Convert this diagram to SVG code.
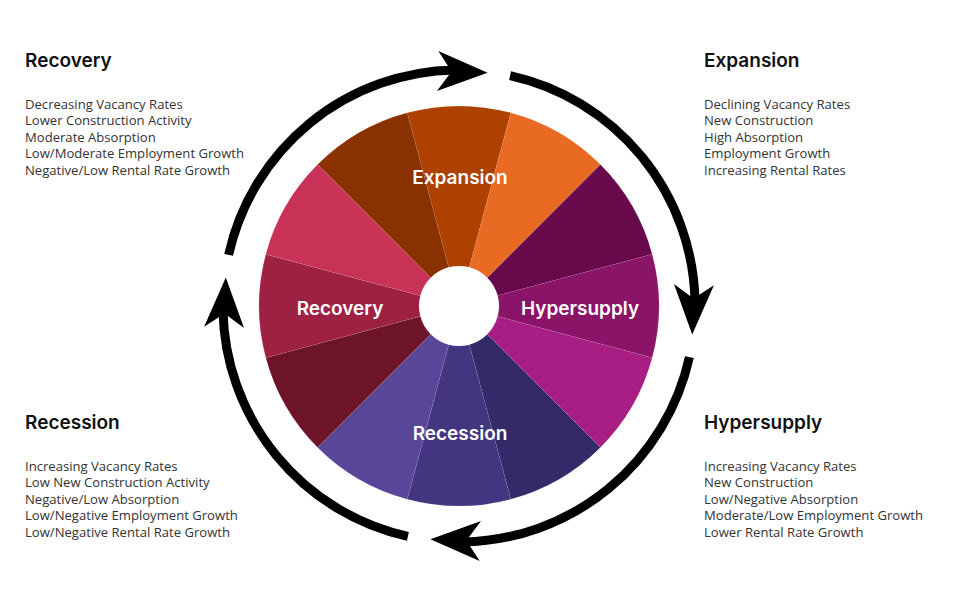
<svg xmlns="http://www.w3.org/2000/svg" width="977" height="595" viewBox="0 0 977 595">
<style>
.h{font-family:Inter,"Open Sans","Liberation Sans",sans-serif;font-weight:600;font-size:19px;fill:#111}
.b{font-family:"Open Sans","Liberation Sans",sans-serif;font-size:13.1px;fill:#333}
.w{font-family:Inter,"Open Sans","Liberation Sans",sans-serif;font-weight:600;font-size:19px;fill:#fff;text-anchor:middle}
.seg{stroke:#fff;stroke-opacity:0.1;stroke-width:0.7}
.arc{fill:none;stroke:#000;stroke-width:9}
</style>
<defs>
<path id="ah" d="M0,0 L-50,-20 L-36,0 L-50,20 Z" fill="#000"/>
</defs>
<rect width="977" height="595" fill="#fff"/>
<g id="wheel">
<path class="seg" fill="#AE4000" d="M448.65,267.36 L407.24,112.81 A200,200 0 0 1 510.76,112.81 L469.35,267.36 A40,40 0 0 0 448.65,267.36 Z"/>
<path class="seg" fill="#E96A22" d="M469.35,267.36 L510.76,112.81 A200,200 0 0 1 600.42,164.58 L487.28,277.72 A40,40 0 0 0 469.35,267.36 Z"/>
<path class="seg" fill="#67094B" d="M487.28,277.72 L600.42,164.58 A200,200 0 0 1 652.19,254.24 L497.64,295.65 A40,40 0 0 0 487.28,277.72 Z"/>
<path class="seg" fill="#8A1468" d="M497.64,295.65 L652.19,254.24 A200,200 0 0 1 652.19,357.76 L497.64,316.35 A40,40 0 0 0 497.64,295.65 Z"/>
<path class="seg" fill="#A91E85" d="M497.64,316.35 L652.19,357.76 A200,200 0 0 1 600.42,447.42 L487.28,334.28 A40,40 0 0 0 497.64,316.35 Z"/>
<path class="seg" fill="#342A69" d="M487.28,334.28 L600.42,447.42 A200,200 0 0 1 510.76,499.19 L469.35,344.64 A40,40 0 0 0 487.28,334.28 Z"/>
<path class="seg" fill="#443581" d="M469.35,344.64 L510.76,499.19 A200,200 0 0 1 407.24,499.19 L448.65,344.64 A40,40 0 0 0 469.35,344.64 Z"/>
<path class="seg" fill="#5A4699" d="M448.65,344.64 L407.24,499.19 A200,200 0 0 1 317.58,447.42 L430.72,334.28 A40,40 0 0 0 448.65,344.64 Z"/>
<path class="seg" fill="#6E1429" d="M430.72,334.28 L317.58,447.42 A200,200 0 0 1 265.81,357.76 L420.36,316.35 A40,40 0 0 0 430.72,334.28 Z"/>
<path class="seg" fill="#9E2143" d="M420.36,316.35 L265.81,357.76 A200,200 0 0 1 265.81,254.24 L420.36,295.65 A40,40 0 0 0 420.36,316.35 Z"/>
<path class="seg" fill="#C83256" d="M420.36,295.65 L265.81,254.24 A200,200 0 0 1 317.58,164.58 L430.72,277.72 A40,40 0 0 0 420.36,295.65 Z"/>
<path class="seg" fill="#8A3100" d="M430.72,277.72 L317.58,164.58 A200,200 0 0 1 407.24,112.81 L448.65,267.36 A40,40 0 0 0 430.72,277.72 Z"/>
</g>
<g id="wheel-labels">
<text class="w" x="460" y="184">Expansion</text>
<text class="w" x="580" y="315">Hypersupply</text>
<text class="w" x="460" y="440">Recession</text>
<text class="w" x="340" y="315">Recovery</text>
</g>
<g id="connectors">
<path class="arc" d="M228.6,254.9 A236,236 0 0 1 454.9,70"/>
<use href="#ah" transform="translate(487.6,72.8) rotate(2)"/>
<path class="arc" d="M510.1,75.6 A236,236 0 0 1 695,301.9"/>
<use href="#ah" transform="translate(692.2,334.6) rotate(92)"/>
<path class="arc" d="M689.4,357.1 A236,236 0 0 1 463.1,542"/>
<use href="#ah" transform="translate(430.4,539.2) rotate(182)"/>
<path class="arc" d="M407.9,536.4 A236,236 0 0 1 223,310.1"/>
<use href="#ah" transform="translate(225.8,277.4) rotate(272)"/>
</g>
<g id="recovery">
<text class="h" x="25" y="67">Recovery</text>
<text class="b" x="25" y="109">Decreasing Vacancy Rates</text>
<text class="b" x="25" y="125.4">Lower Construction Activity</text>
<text class="b" x="25" y="141.8">Moderate Absorption</text>
<text class="b" x="25" y="158.2">Low/Moderate Employment Growth</text>
<text class="b" x="25" y="174.6">Negative/Low Rental Rate Growth</text>
</g>
<g id="expansion">
<text class="h" x="704" y="67">Expansion</text>
<text class="b" x="704" y="109">Declining Vacancy Rates</text>
<text class="b" x="704" y="125.4">New Construction</text>
<text class="b" x="704" y="141.8">High Absorption</text>
<text class="b" x="704" y="158.2">Employment Growth</text>
<text class="b" x="704" y="174.6">Increasing Rental Rates</text>
</g>
<g id="recession">
<text class="h" x="25" y="429">Recession</text>
<text class="b" x="25" y="471">Increasing Vacancy Rates</text>
<text class="b" x="25" y="487.4">Low New Construction Activity</text>
<text class="b" x="25" y="503.8">Negative/Low Absorption</text>
<text class="b" x="25" y="520.2">Low/Negative Employment Growth</text>
<text class="b" x="25" y="536.6">Low/Negative Rental Rate Growth</text>
</g>
<g id="hypersupply">
<text class="h" x="704" y="429">Hypersupply</text>
<text class="b" x="704" y="471">Increasing Vacancy Rates</text>
<text class="b" x="704" y="487.4">New Construction</text>
<text class="b" x="704" y="503.8">Low/Negative Absorption</text>
<text class="b" x="704" y="520.2">Moderate/Low Employment Growth</text>
<text class="b" x="704" y="536.6">Lower Rental Rate Growth</text>
</g>
</svg>
